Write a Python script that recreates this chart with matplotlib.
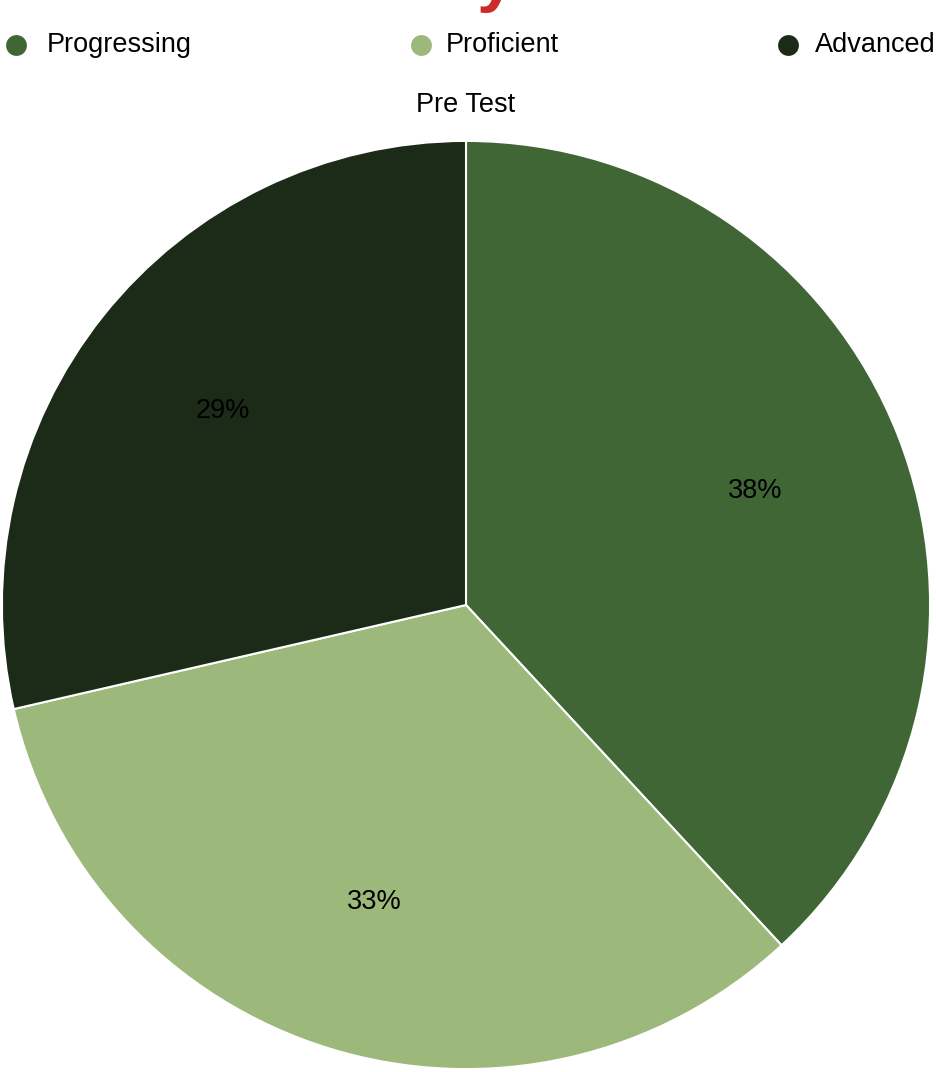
import matplotlib.pyplot as plt
from matplotlib.lines import Line2D

# data (slice angles suggest 38.1 / 33.3 / 28.6)
labels = ['Progressing', 'Proficient', 'Advanced']
values = [38.1, 33.3, 28.6]
colors = ['#3f6634', '#9cb87b', '#1b2b18']
title = 'Pre Test'

W, H = 936, 1072
fig = plt.figure(figsize=(W / 100, H / 100), dpi=100)
plt.rcParams['font.family'] = ['Liberation Sans', 'DejaVu Sans']

# pie axes: centre ~(466, 605) px, radius ~465 px
cx, cy, r = 466, 605, 465
ax = fig.add_axes([(cx - r) / W, (H - cy - r) / H, 2 * r / W, 2 * r / H])
wedges, texts, autotexts = ax.pie(
    values, colors=colors, startangle=90, counterclock=False,
    autopct='%.0f%%', pctdistance=0.67, radius=1,
    wedgeprops=dict(edgecolor='white', linewidth=1.5),
    textprops=dict(fontsize=19.5, color='black'))
ax.set_xlim(-1.002, 1.002)
ax.set_ylim(-1.002, 1.002)
ax.set_aspect('equal')
ax.axis('off')

# title
fig.text(cx / W, 1 - 105 / H, title, ha='center', va='center', fontsize=19.5)

# cut off red heading at the very top (only the descender shows)
fig.text(496 / W, 1 + 1 / H, 'y', ha='center', va='baseline',
         fontsize=50, fontweight='bold', color='#cc2b27')

# legend, placed by hand
marker_x = [16, 421, 788]
text_x = [47, 446, 815]
ly = 1 - 45 / H
for mx, tx, lab, col in zip(marker_x, text_x, labels, colors):
    fig.add_artist(Line2D([mx / W], [ly], marker='o', markersize=15,
                          color=col, markeredgewidth=0, transform=fig.transFigure))
    fig.text(tx / W, ly, lab, ha='left', va='center', fontsize=19.5)

fig.savefig('out.png', dpi=100, facecolor='white')
